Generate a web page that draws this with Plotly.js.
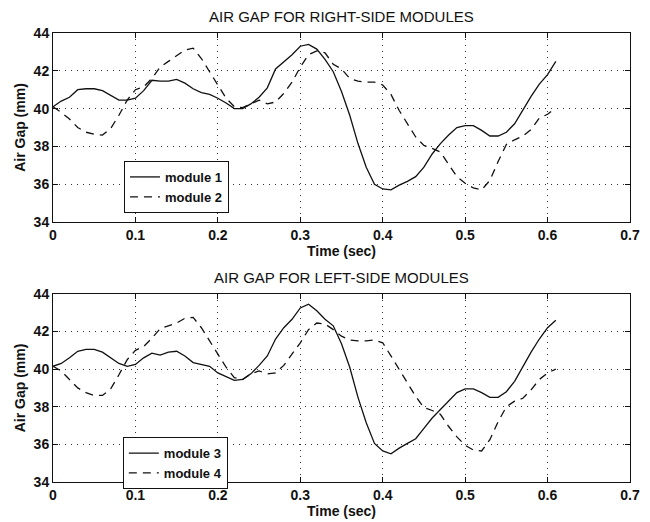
<!DOCTYPE html>
<html>
<head>
<meta charset="utf-8">
<script src="https://cdn.plot.ly/plotly-3.0.1.min.js"></script>
<style>html,body{margin:0;padding:0;background:#fff;}#chart{width:650px;height:522px;}</style>
</head>
<body>
<div id="chart"></div>
<script>
// Time samples (sec)
const time = [0,0.01,0.02,0.03,0.04,0.05,0.06,0.07,0.08,0.09,0.1,0.11,0.12,0.13,0.14,0.15,0.16,0.17,0.18,0.19,0.2,0.21,0.22,0.23,0.24,0.25,0.26,0.27,0.28,0.29,0.3,0.31,0.32,0.33,0.34,0.35,0.36,0.37,0.38,0.39,0.4,0.41,0.42,0.43,0.44,0.45,0.46,0.47,0.48,0.49,0.5,0.51,0.52,0.53,0.54,0.55,0.56,0.57,0.58,0.59,0.6,0.61];

// Right-side modules
const module1 = [40.1,40.4,40.6,41.0,41.05,41.05,40.95,40.7,40.45,40.45,40.55,40.95,41.5,41.45,41.45,41.55,41.35,41.05,40.85,40.75,40.55,40.3,40.0,40.0,40.25,40.6,41.1,42.1,42.45,42.85,43.3,43.4,43.15,42.6,41.95,40.9,39.65,38.15,36.9,36.0,35.75,35.7,35.95,36.15,36.4,36.9,37.6,38.15,38.6,39.0,39.1,39.1,38.85,38.55,38.55,38.75,39.2,39.95,40.65,41.3,41.8,42.5];
const module2 = [40.1,39.8,39.45,39.0,38.75,38.65,38.6,38.95,39.65,40.45,41.0,41.15,41.6,42.2,42.5,42.8,43.1,43.2,42.65,41.95,41.25,40.55,40.1,40.05,40.25,40.45,40.25,40.35,40.8,41.4,42.2,42.85,43.05,42.95,42.35,42.1,41.6,41.45,41.4,41.4,41.25,40.75,39.9,39.2,38.5,38.05,37.9,37.7,37.05,36.4,36.05,35.8,35.7,36.2,37.2,38.1,38.35,38.55,38.9,39.5,39.7,40.05];

// Left-side modules
const module3 = [40.15,40.3,40.6,40.95,41.05,41.05,40.9,40.6,40.3,40.15,40.25,40.6,40.85,40.75,40.9,40.95,40.7,40.35,40.25,40.15,39.8,39.6,39.4,39.45,39.75,40.2,40.7,41.6,42.2,42.65,43.25,43.45,43.1,42.65,42.3,41.35,40.1,38.5,37.15,36.05,35.65,35.5,35.8,36.05,36.3,36.85,37.4,37.85,38.3,38.75,38.95,38.95,38.75,38.5,38.5,38.8,39.35,40.15,40.9,41.6,42.2,42.6];
const module4 = [40.15,39.9,39.45,39.0,38.75,38.6,38.6,38.95,39.7,40.5,41.0,41.2,41.65,42.15,42.3,42.45,42.7,42.75,42.2,41.5,40.8,40.1,39.55,39.45,39.75,39.9,39.75,39.8,40.2,40.8,41.4,42.1,42.45,42.4,42.1,41.75,41.55,41.5,41.5,41.55,41.4,40.7,40.0,39.3,38.55,37.95,37.8,37.6,36.95,36.4,35.95,35.7,35.65,36.25,37.2,38.0,38.3,38.45,38.9,39.45,39.8,40.0];

const xTicks = [0,0.1,0.2,0.3,0.4,0.5,0.6,0.7];
const xTickText = ["0","0.1","0.2","0.3","0.4","0.5","0.6","0.7"];
const yTicks = [34,36,38,40,42,44];

const titles = ["AIR GAP FOR RIGHT-SIDE MODULES", "AIR GAP FOR LEFT-SIDE MODULES"];
const xLabel = "Time (sec)";
const yLabel = "Air Gap (mm)";

const FONT = "Liberation Sans, Arial, Helvetica, sans-serif";
const lineStyle = (dash) => ({color: "#111", width: 1.3, dash: dash});

const traces = [
  {x: time, y: module1, name: "module 1", mode: "lines", line: lineStyle("solid"), xaxis: "x", yaxis: "y", legend: "legend"},
  {x: time, y: module2, name: "module 2", mode: "lines", line: lineStyle("8px,6px"), xaxis: "x", yaxis: "y", legend: "legend"},
  {x: time, y: module3, name: "module 3", mode: "lines", line: lineStyle("solid"), xaxis: "x2", yaxis: "y2", legend: "legend2"},
  {x: time, y: module4, name: "module 4", mode: "lines", line: lineStyle("8px,6px"), xaxis: "x2", yaxis: "y2", legend: "legend2"}
];

const tickFont = {family: FONT, size: 14, color: "#111", weight: "bold"};

function xAxis(anchor) {
  return {
    anchor: anchor, domain: [0, 1], range: [0, 0.7],
    tickvals: xTicks, ticktext: xTickText,
    ticks: "inside", ticklen: 5, tickcolor: "#111", mirror: "ticks",
    showline: true, linecolor: "#111", linewidth: 1,
    showgrid: true, gridcolor: "#333", griddash: "1px,5px", gridwidth: 1,
    zeroline: false,
    tickfont: tickFont,
    title: {text: xLabel, font: tickFont, standoff: 1}
  };
}
function yAxis(anchor, domain) {
  return {
    anchor: anchor, domain: domain, range: [34, 44],
    tickvals: yTicks,
    ticks: "inside", ticklen: 5, tickcolor: "#111", mirror: "ticks",
    showline: true, linecolor: "#111", linewidth: 1,
    showgrid: true, gridcolor: "#333", griddash: "1px,5px", gridwidth: 1,
    zeroline: false,
    tickfont: tickFont,
    title: {text: yLabel, font: tickFont, standoff: 4}
  };
}

const legendStyle = (x, y) => ({
  x: x, y: y, xanchor: "left", yanchor: "top",
  bgcolor: "#fff", bordercolor: "#111", borderwidth: 1,
  font: {family: FONT, size: 13, color: "#111", weight: "bold"},
  tracegroupgap: 0, itemwidth: 30
});

const layout = {
  width: 650, height: 522,
  margin: {l: 53, r: 20, t: 33, b: 40},
  paper_bgcolor: "#fff", plot_bgcolor: "#fff",
  showlegend: true,
  xaxis: xAxis("y"),
  yaxis: yAxis("x", [0.579, 1]),
  xaxis2: xAxis("y2"),
  yaxis2: yAxis("x2", [0, 0.419]),
  legend: legendStyle(0.123, 0.715),
  legend2: legendStyle(0.121, 0.1),
  annotations: [
    {text: titles[0], xref: "paper", yref: "paper", x: 0.5, y: 1, yanchor: "bottom", yshift: 6, showarrow: false,
     font: {family: FONT, size: 15, color: "#111"}},
    {text: titles[1], xref: "paper", yref: "paper", x: 0.5, y: 0.419, yanchor: "bottom", yshift: 6, showarrow: false,
     font: {family: FONT, size: 15, color: "#111"}}
  ]
};

Plotly.newPlot("chart", traces, layout, {displayModeBar: false, staticPlot: true});
</script>
</body>
</html>
